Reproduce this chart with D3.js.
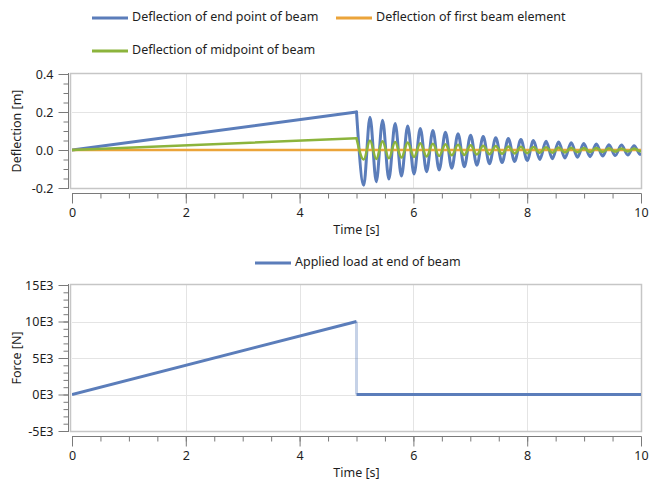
<!DOCTYPE html>
<html>
<head>
<meta charset="utf-8">
<script src="https://cdn.jsdelivr.net/npm/d3@7"></script>
<style>
  html, body { margin: 0; padding: 0; background: #fff; }
  svg { display: block; }
  text { font-family: "Segoe UI", "Noto Sans", "Open Sans", sans-serif; fill: #1e1e1e; }
</style>
</head>
<body>
<svg id="chart" width="650" height="487"></svg>
<script>
// ---------------- DATA ----------------
const seriesNames = ["Deflection of end point of beam", "Deflection of first beam element", "Deflection of midpoint of beam"];
const loadName = "Applied load at end of beam";

// Linear ramp (0..5 s)
const rampTimes = [0, 5];
const endRamp = [0, 0.200];
const midRamp = [0, 0.062];

// Free vibration after release: times of successive extrema
const vibTimes = [5.0,
  5.127, 5.237, 5.348, 5.458, 5.569, 5.679, 5.790, 5.900, 6.011, 6.121,
  6.232, 6.342, 6.453, 6.563, 6.674, 6.784, 6.895, 7.005, 7.116, 7.226,
  7.337, 7.447, 7.558, 7.668, 7.779, 7.889, 8.000, 8.110, 8.221, 8.331,
  8.442, 8.552, 8.663, 8.773, 8.884, 8.994, 9.105, 9.215, 9.326, 9.436,
  9.547, 9.657, 9.768, 9.878, 9.989, 10.0];
const endVib = [0.200,
  -0.185, 0.173, -0.167, 0.157, -0.153, 0.140, -0.137, 0.126, -0.126, 0.113,
  -0.114, 0.103, -0.105, 0.094, -0.096, 0.086, -0.088, 0.078, -0.080, 0.071,
  -0.072, 0.065, -0.066, 0.060, -0.060, 0.055, -0.055, 0.050, -0.050, 0.046,
  -0.046, 0.042, -0.042, 0.038, -0.038, 0.034, -0.035, 0.031, -0.032, 0.028,
  -0.029, 0.026, -0.026, 0.023, -0.023, -0.022];
const midVib = [0.062,
  -0.050, 0.050, -0.047, 0.046, -0.044, 0.042, -0.040, 0.039, -0.037, 0.036,
  -0.034, 0.033, -0.031, 0.030, -0.028, 0.027, -0.026, 0.025, -0.024, 0.023,
  -0.022, 0.021, -0.020, 0.019, -0.018, 0.017, -0.017, 0.016, -0.015, 0.014,
  -0.014, 0.013, -0.013, 0.012, -0.012, 0.011, -0.011, 0.010, -0.010, 0.009,
  -0.009, 0.008, -0.008, 0.008, -0.007, -0.007];
const firstTimes = [0, 10];
const firstVals = [0, 0];

// Applied load
const loadTimes = [0, 5, 5, 10];
const loadVals = [0, 10000, 0, 0];

// Axis ticks
const xTicks = [0, 2, 4, 6, 8, 10];
const xTickLabels = ["0", "2", "4", "6", "8", "10"];
const defTicks = [-0.2, 0.0, 0.2, 0.4];
const defTickLabels = ["-0.2", "0.0", "0.2", "0.4"];
const forceTicks = [-5000, 0, 5000, 10000, 15000];
const forceTickLabels = ["-5E3", "0E3", "5E3", "10E3", "15E3"];

// ---------------- STYLE ----------------
const C_BLUE = "#5b7dba", C_ORANGE = "#eba43a", C_GREEN = "#8cb43c";
const GRID = "#e4e4e4", FRAME = "#c6c6c6", AXIS = "#7a7a7a";
const FS = 12.5;

const svg = d3.select("#chart");
const left = 72, right = 641;
const x = d3.scaleLinear().domain([0, 10]).range([left, right]);

function zip(t, v) { return t.map((d, i) => [d, v[i]]); }

function panel(cfg) {
  const y = d3.scaleLinear().domain(cfg.ydom).range([cfg.bottom, cfg.top]);
  const g = svg.append("g");
  // grid
  g.append("g").selectAll("line").data(xTicks.slice(1, -1)).join("line")
    .attr("x1", d => Math.round(x(d)) + 0.5).attr("x2", d => Math.round(x(d)) + 0.5).attr("y1", cfg.top).attr("y2", cfg.bottom)
    .attr("stroke", GRID).attr("stroke-width", 1);
  g.append("g").selectAll("line").data(cfg.yticks.slice(1, -1)).join("line")
    .attr("x1", left).attr("x2", right).attr("y1", d => Math.round(y(d)) + 0.5).attr("y2", d => Math.round(y(d)) + 0.5)
    .attr("stroke", GRID).attr("stroke-width", 1);
  // frame
  g.append("rect").attr("x", left - 1.5).attr("y", cfg.top - 0.5)
    .attr("width", right - left + 2).attr("height", cfg.bottom - cfg.top + 1)
    .attr("fill", "none").attr("stroke", FRAME).attr("stroke-width", 1.5);

  // y axis
  const yAxis = d3.axisLeft(y).tickValues(cfg.yticks).tickSize(10).tickPadding(5)
    .tickFormat((d, i) => cfg.ylabels[i]);
  const ya = g.append("g").attr("transform", "translate(68.5,0)").call(yAxis);
  const yMinor = d3.axisLeft(y).tickValues(d3.range(cfg.ydom[0], cfg.ydom[1] + cfg.yminor / 2, cfg.yminor))
    .tickSize(5).tickFormat("");
  const ym = g.append("g").attr("transform", "translate(68.5,0)").call(yMinor);
  [ya, ym].forEach(a => { a.select(".domain").attr("stroke", AXIS).attr("d", `M-0,${cfg.bottom + 1}H0V${cfg.top - 1}H-0`); a.selectAll(".tick line").attr("stroke", AXIS); });
  ya.selectAll("text").attr("font-size", FS).attr("fill", "#1e1e1e");
  ya.attr("font-family", null);

  // x axis
  const axisY = cfg.bottom + 5.5;
  const xAxis = d3.axisBottom(x).tickValues(xTicks).tickSize(10).tickPadding(5)
    .tickFormat((d, i) => xTickLabels[i]);
  const xa = g.append("g").attr("transform", `translate(0,${axisY})`).call(xAxis);
  const xMinor = d3.axisBottom(x).tickValues(d3.range(0, 10.01, 0.5)).tickSize(5).tickFormat("");
  const xm = g.append("g").attr("transform", `translate(0,${axisY})`).call(xMinor);
  [xa, xm].forEach(a => { a.select(".domain").attr("stroke", AXIS).attr("d", `M${left},0V0H${right}V0`); a.selectAll(".tick line").attr("stroke", AXIS); });
  xa.selectAll("text").attr("font-size", FS).attr("fill", "#1e1e1e");
  xa.attr("font-family", null);

  // axis titles
  g.append("text").attr("x", (left + right) / 2).attr("y", axisY + 37).attr("text-anchor", "middle")
    .attr("font-size", FS).attr("dominant-baseline", "middle").text("Time [s]");
  g.append("text").attr("transform", `translate(18,${(cfg.top + cfg.bottom) / 2}) rotate(-90)`)
    .attr("text-anchor", "middle").attr("dominant-baseline", "middle").attr("font-size", FS).text(cfg.ytitle);

  const clip = "clip" + cfg.id;
  svg.append("clipPath").attr("id", clip).append("rect")
    .attr("x", left).attr("y", cfg.top - 2).attr("width", right - left).attr("height", cfg.bottom - cfg.top + 4);
  const plot = g.append("g").attr("clip-path", `url(#${clip})`);
  return { y, plot };
}

// ---------------- TOP PANEL ----------------
const topP = panel({ id: "a", top: 74, bottom: 188, ydom: [-0.2, 0.4], yticks: defTicks, ylabels: defTickLabels, yminor: 0.05, ytitle: "Deflection [m]" });
const lineLin = d3.line().x(d => x(d[0])).y(d => topP.y(d[1]));
const lineSmooth = d3.line().x(d => x(d[0])).y(d => topP.y(d[1])).curve(d3.curveMonotoneX);

function drawSeries(rampV, vibV, color, w) {
  topP.plot.append("path").datum(zip(rampTimes, rampV)).attr("d", lineLin)
    .attr("fill", "none").attr("stroke", color).attr("stroke-width", w).attr("stroke-linecap", "round");
  topP.plot.append("path").datum(zip(vibTimes, vibV)).attr("d", lineSmooth)
    .attr("fill", "none").attr("stroke", color).attr("stroke-width", w).attr("stroke-linejoin", "round").attr("stroke-linecap", "round");
}
drawSeries(endRamp, endVib, C_BLUE, 3);
topP.plot.append("path").datum(zip(firstTimes, firstVals)).attr("d", lineLin)
  .attr("fill", "none").attr("stroke", C_ORANGE).attr("stroke-width", 2.5);
drawSeries(midRamp, midVib, C_GREEN, 2.5);

// ---------------- BOTTOM PANEL ----------------
const botP = panel({ id: "b", top: 285, bottom: 431, ydom: [-5000, 15000], yticks: forceTicks, ylabels: forceTickLabels, yminor: 1000, ytitle: "Force [N]" });
const loadPts = zip(loadTimes, loadVals);
const lineF = d3.line().x(d => x(d[0])).y(d => botP.y(d[1]));
d3.pairs(loadPts).forEach(([a, b]) => {
  botP.plot.append("path").datum([a, b]).attr("d", lineF)
    .attr("fill", "none").attr("stroke", C_BLUE).attr("stroke-width", 3)
    .attr("stroke-opacity", a[0] === b[0] ? 0.35 : 1);
});

// ---------------- LEGENDS ----------------
const legendItems = [
  { name: seriesNames[0], color: C_BLUE, lx: 92, ly: 18 },
  { name: seriesNames[1], color: C_ORANGE, lx: 336, ly: 18 },
  { name: seriesNames[2], color: C_GREEN, lx: 92, ly: 51 },
  { name: loadName, color: C_BLUE, lx: 255, ly: 263 }
];
const lg = svg.append("g").selectAll("g").data(legendItems).join("g");
lg.append("line").attr("x1", d => d.lx).attr("x2", d => d.lx + 36).attr("y1", d => d.ly).attr("y2", d => d.ly)
  .attr("stroke", d => d.color).attr("stroke-width", 3);
lg.append("text").attr("x", d => d.lx + 40).attr("y", d => d.ly).attr("dominant-baseline", "middle")
  .attr("font-size", FS).text(d => d.name);
</script>
</body>
</html>
